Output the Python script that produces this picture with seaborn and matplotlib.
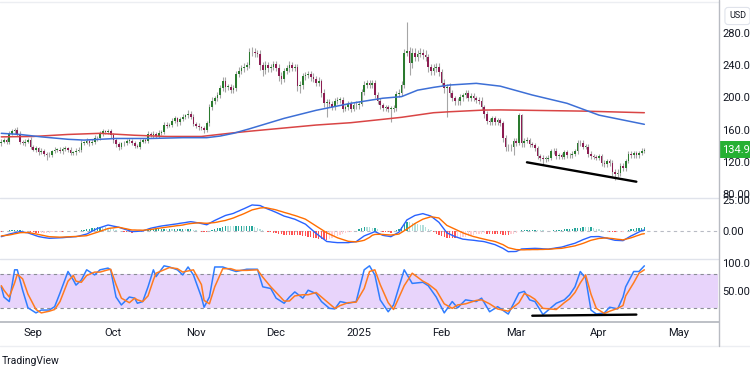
import numpy as np
import pandas as pd
import matplotlib
matplotlib.use("Agg")
import matplotlib.pyplot as plt
import matplotlib.transforms as mtransforms
from matplotlib.lines import Line2D
import seaborn as sns

# ---------------- data (daily, SOL/USD) ----------------
start_date = "2024-08-20"
close_aug = [145,147,145,155,158,160,155,145,143,145,147,139]
close_sep = [135,137,132,134,130,128,129,133,135,135,133,136,137,135,131,132,134,135,144,144,146,143,145,150,149,155,158,157,158,153]
close_oct = [147,142,138,143,143,146,146,143,140,139,145,147,146,155,153,155,152,156,157,166,165,166,171,174,169,173,176,178,180,176,167]
close_nov = [165,163,162,160,168,188,196,199,203,212,220,213,213,209,212,229,233,236,238,240,256,256,255,254,240,234,240,236,238,241]
close_dec = [237,226,223,233,236,240,237,238,214,215,226,228,229,225,223,218,220,206,193,194,192,188,195,197,197,186,188,192,186,191,190]
close_jan = [192,207,216,218,216,218,203,196,190,187,188,186,186,187,204,206,216,255,258,243,255,250,254,255,253,250,238,233,237,238,231]
close_feb = [218,212,213,205,199,195,195,200,203,205,199,202,199,197,196,188,179,171,170,174,170,172,168,150,139,138,139,146]
close_mar = [144,178,143,146,147,142,141,137,127,125,124,124,125,133,134,127,128,126,132,128,128,130,133,143,144,139,139,130,127,126,125]
close_apr = [127,119,117,121,119,107,105,106,115,112,121,130,128,131,128,131,134,134.9]
first_open = 143

wick_up = ([3,2,3,3,3,2,3,3,2,3,2,4]
           + [2,3,2,3,2,2,3,2,3,2,3,2,3,2,3,2,3,4,3,2,3,2,3,3,2,3,3,2,3,3]
           + [3,2,3,2,3,2,3,2,3,2,3,2,3,3,2,3,2,3,2,3,3,2,3,3,2,3,3,2,4,3,3]
           + [3,3,2,3,3,4,4,3,4,4,5,5,4,4,3,4,5,4,5,4,5,7,5,4,5,4,5,4,3,4]
           + [4,5,5,4,4,5,4,4,4,5,4,4,4,4,5,4,5,3,4,4,4,3,4,3,3,4,3,4,4,3,4]
           + [3,4,4,4,4,4,4,4,3,3,3,3,3,4,4,4,4,5,36,5,7,6,5,6,5,6,4,4,5,5,5]
           + [4,5,4,5,4,3,4,4,3,4,4,3,3,3,4,4,3,4,3,3,3,3,3,3,3,3,3,3]
           + [3,3,2,4,4,3,3,3,3,3,3,3,3,3,3,3,3,3,3,3,3,3,3,4,3,3,3,3,3,3,3]
           + [3,3,3,3,3,3,4,5,3,4,3,3,3,3,3,3,3,2])
wick_dn = ([3,2,3,3,2,3,3,3,2,3,2,3]
           + [2,3,3,2,3,6,2,3,2,3,2,3,2,3,3,2,3,2,3,3,2,3,2,3,3,2,3,3,2,3]
           + [3,3,3,2,3,2,3,2,3,2,3,2,3,3,2,3,3,2,3,2,3,2,3,3,4,3,2,3,3,3,3]
           + [3,3,3,4,3,3,4,4,3,4,4,6,4,4,3,4,4,4,4,4,3,5,5,4,6,8,5,4,4,4]
           + [4,6,6,4,4,4,4,4,6,8,4,4,4,4,4,4,4,5,5,17,4,4,4,3,4,4,3,4,4,3,4]
           + [4,3,4,4,4,4,4,4,4,4,4,4,16,4,4,4,4,4,4,15,6,5,5,4,5,5,6,5,5,5,5]
           + [4,6,36,5,4,5,4,4,4,4,4,4,4,4,4,4,5,4,4,4,4,4,4,5,6,5,4,10]
           + [4,3,4,4,3,3,3,3,4,4,8,4,3,3,3,3,3,3,3,3,3,3,3,3,3,3,3,4,3,3,3]
           + [3,4,4,3,4,5,8,4,3,4,3,3,3,3,3,3,3,3])

# moving averages (day offset, value)
ma50_days = [0,7,15,25,31,37,43,56,68,77,82,87,93,106,118,131,143,150,156,162,168,178,187,199,212,224,241]
ma50_vals = [155.4,154,151,148,147,148,149,149,150,150,152,155.4,161,174,184,192.7,199,201,209,212.5,215.4,217.5,214,203,192.7,178,166.6]
ma200_days = [0,12,25,37,50,62,75,87,93,118,131,143,150,162,168,181,187,218,241]
ma200_vals = [151,151.5,154,155.4,153,151.5,151.5,156,158,165.7,168.6,172.8,175.3,181,182.2,184.3,184.5,183,181]

# MACD (daily)
macd_line = [-4.6,-3.9,-3.2,-2.5,-2.0,-1.5,-1.0,-0.5,-0.8,-1.2,
             -1.5,-2.3,-3.0,-3.8,-4.5,-4.9,-5.3,-5.6,-5.9,-5.8,
             -5.7,-5.6,-5.5,-5.4,-5.2,-5.0,-4.9,-4.7,-4.6,-4.1,
             -3.6,-3.0,-2.5,-1.4,-0.3,0.9,2.0,2.7,3.4,4.1,
             4.8,4.4,3.9,3.5,3.0,2.3,1.6,0.9,0.2,-0.5,
             -0.4,-0.3,-0.1,0.0,0.7,1.5,2.2,2.7,3.1,3.6,
             4.0,4.3,4.6,4.9,5.2,5.5,5.8,6.2,6.5,6.8,
             7.2,7.5,7.2,6.8,6.5,6.0,5.5,5.0,6.2,7.3,
             8.5,9.5,10.5,11.5,12.5,13.1,13.6,14.2,15.2,16.1,
             17.1,18.0,19.0,20.0,21.0,20.8,20.7,20.5,19.5,18.5,
             17.6,16.8,15.9,15.0,14.0,13.0,12.0,11.4,10.8,10.1,
             9.5,8.5,7.5,6.5,5.5,3.6,1.8,-0.1,-2.0,-3.6,
             -5.3,-6.9,-8.5,-8.7,-9.0,-9.2,-9.4,-9.4,-9.4,-9.4,
             -9.4,-9.1,-8.9,-8.6,-7.1,-5.5,-4.0,-3.1,-2.3,-1.4,
             -0.5,-1.5,-2.5,-3.5,-3.9,-4.2,-4.6,-3.4,-2.2,-1.0,
             2.3,5.6,8.9,10.1,11.3,12.5,13.0,13.5,14.0,13.3,
             12.7,12.0,10.3,8.7,7.0,4.2,1.3,-1.5,-2.5,-3.5,
             -4.5,-5.2,-5.9,-6.6,-6.8,-7.1,-7.3,-7.5,-7.8,-8.1,
             -8.3,-8.6,-9.2,-9.8,-10.4,-11.0,-12.0,-13.0,-14.0,-15.4,
             -16.7,-16.6,-16.6,-16.5,-15.5,-14.5,-14.4,-14.3,-14.2,-14.1,
             -14.0,-14.1,-14.2,-14.4,-14.5,-14.6,-14.3,-14.0,-13.6,-13.3,
             -13.0,-12.4,-11.7,-11.1,-10.5,-9.9,-8.9,-8.0,-7.0,-6.2,
             -5.4,-4.6,-4.6,-4.5,-4.5,-5.0,-5.4,-5.9,-6.4,-7.0,
             -7.5,-7.6,-7.7,-7.8,-6.5,-5.3,-4.0,-3.0,-1.9,-0.8,
             0.3,0.8]
signal_line = [-4.0,-3.7,-3.5,-3.2,-2.8,-2.3,-1.9,-1.4,-1.3,-1.3,
               -1.2,-1.6,-2.0,-2.4,-2.8,-3.3,-3.7,-4.2,-4.6,-4.7,
               -4.8,-4.9,-5.0,-4.9,-4.8,-4.7,-4.6,-4.5,-4.4,-4.3,
               -4.1,-4.0,-3.8,-3.1,-2.4,-1.7,-1.0,-0.3,0.5,1.2,
               2.0,2.3,2.5,2.8,3.0,2.6,2.1,1.7,1.2,0.8,
               0.8,0.7,0.7,0.6,0.8,1.0,1.2,1.5,1.9,2.2,
               2.5,2.8,3.1,3.4,3.7,4.0,4.3,4.5,4.8,5.3,
               5.7,6.0,6.2,6.4,6.6,6.5,6.3,6.2,6.4,6.6,
               6.8,7.2,7.7,8.1,8.5,9.2,9.8,10.5,11.4,12.3,
               13.1,14.0,15.0,16.0,17.0,17.5,18.0,18.5,18.7,18.8,
               18.4,17.9,17.5,17.0,16.3,15.7,15.0,14.4,13.8,13.1,
               12.5,11.8,11.0,10.3,9.5,8.1,6.8,5.4,4.0,2.6,
               1.3,-0.1,-1.5,-2.5,-3.5,-4.5,-5.5,-6.2,-6.9,-7.6,
               -8.3,-8.5,-8.6,-8.8,-8.4,-8.0,-7.5,-6.4,-5.2,-3.5,
               -2.8,-2.7,-2.7,-2.8,-3.0,-3.1,-3.3,-3.0,-2.8,-2.5,
               -1.2,0.2,1.5,3.0,4.5,6.0,7.2,8.3,9.5,10.2,
               10.8,11.5,11.2,10.8,10.5,8.5,6.5,4.5,3.5,2.5,
               1.5,0.5,-0.5,-1.5,-2.3,-3.0,-3.8,-4.5,-5.0,-5.6,
               -6.1,-6.6,-7.1,-7.6,-8.0,-8.5,-9.3,-10.2,-11.0,-12.3,
               -13.5,-14.0,-14.5,-15.0,-15.1,-15.2,-15.2,-15.1,-15.1,-15.0,
               -15.0,-15.0,-14.9,-14.9,-14.8,-14.8,-14.6,-14.4,-14.2,-14.1,
               -14.0,-13.6,-13.2,-12.8,-12.4,-12.0,-11.3,-10.7,-10.0,-9.2,
               -8.3,-7.5,-7.0,-6.5,-6.0,-5.9,-5.7,-5.6,-5.9,-6.1,
               -6.4,-6.7,-6.9,-7.2,-6.6,-6.1,-5.5,-4.8,-4.0,-3.3,
               -2.5,-2.2]

# Stochastic RSI (day offset, %K, %D)
stoch_days = [0,1,3,5,6,8,10,13,15,18,20,22,25,27,28,30,32,35,37,40,
              41,43,45,48,50,51,53,55,57,58,61,63,66,68,70,72,75,76,78,80,
              83,86,88,92,96,98,101,103,106,108,110,113,115,118,120,123,125,127,130,133,
              136,138,140,142,145,147,151,154,158,160,163,166,169,171,174,178,180,183,186,190,
              194,196,198,200,203,208,211,213,215,217,219,221,223,226,228,231,233,234,237,239,241]
stoch_k = [58,40,32,88,88,52,21,12,17,17,23,47,85,70,61,70,88,79,88,91,
           88,40,26,40,38,29,32,58,88,76,95,93,88,79,93,79,40,22,40,93,
           93,88,85,89,89,58,55,38,29,40,49,38,52,46,32,20,19,32,29,32,
           88,95,79,35,14,26,88,64,66,60,40,12,32,21,35,32,38,14,23,10,
           47,50,35,32,9,29,35,44,58,85,73,17,10,12,22,19,40,58,85,85,95]
stoch_d = [60,52,40,65,80,72,45,18,12,15,18,32,68,78,68,66,78,84,84,88,
           89,62,38,30,38,35,32,42,70,82,88,92,90,84,86,88,62,34,28,58,
           90,90,87,87,88,75,58,48,33,33,42,44,44,48,40,28,20,25,30,31,
           55,85,88,62,30,18,60,82,68,63,52,28,20,26,28,34,35,28,19,15,
           30,46,42,36,20,18,30,37,48,65,79,45,20,11,15,20,25,42,65,82,88]

# trend lines drawn on the chart
trend_price_dates = ["2025-03-05", "2025-04-15"]
trend_price_vals = [119.4, 95.3]
trend_stoch_dates = ["2025-03-07", "2025-04-15"]
trend_stoch_vals = [7, 9]

tick_dates = ["2024-09-01","2024-10-01","2024-11-01","2024-12-01","2025-01-01",
              "2025-02-01","2025-03-01","2025-04-01","2025-05-01"]
tick_labels = ["Sep","Oct","Nov","Dec","2025","Feb","Mar","Apr","May"]
price_ticks = [80, 120, 160, 200, 240, 280]
macd_ticks = [0, 25]
stoch_ticks = [50, 100]

# ---------------- derived ----------------
closes = np.array(close_aug + close_sep + close_oct + close_nov + close_dec +
                  close_jan + close_feb + close_mar + close_apr, dtype=float)
n = len(closes)
t0 = pd.Timestamp(start_date)
dates = pd.date_range(start_date, periods=n, freq="D")
days = np.asarray((dates - t0).days, dtype=float)
opens = np.r_[first_open, closes[:-1]]
top = np.maximum(opens, closes)
bot = np.minimum(opens, closes)
highs = top + np.array(wick_up)
lows = bot - np.array(wick_dn)

def to_day(ds):
    return np.asarray((pd.to_datetime(ds) - t0).days, dtype=float)

macd = np.array(macd_line)
sig = np.array(signal_line)
hist = macd - sig
prev = np.r_[hist[0], hist[:-1]]
hist_col = np.where(hist >= 0,
                    np.where(hist >= prev, "#26a69a", "#b2dfdb"),
                    np.where(hist <= prev, "#ff5252", "#ffcdd2"))

# ---------------- style / layout ----------------
sns.set_style("white")
plt.rcParams["font.family"] = ["Roboto", "DejaVu Sans"]
TXT = "#131722"

W, H = 750, 375
fig = plt.figure(figsize=(7.5, 3.75), dpi=100)
fig.patch.set_facecolor("white")

def fx(px):
    return px / W

def fy(py):
    return 1 - py / H

PLOT_W = 718
ax_p = fig.add_axes([0, fy(197), fx(PLOT_W), (197 - 3) / H])
ax_m = fig.add_axes([0, fy(259), fx(PLOT_W), (259 - 198) / H])
ax_s = fig.add_axes([0, fy(321), fx(PLOT_W), (321 - 260) / H])

xlim = (-0.48, 268.6)
for ax in (ax_p, ax_m, ax_s):
    ax.set_xlim(*xlim)
    for sp in ax.spines.values():
        sp.set_visible(False)
    ax.set_facecolor("none")
    ax.yaxis.tick_right()
    ax.tick_params(axis="y", length=0, pad=3, labelsize=8, labelcolor=TXT)
    ax.set_xlabel("")
    ax.set_ylabel("")

# ---------------- price panel ----------------
ax_p.set_ylim(76.3, 317.3)
up_col, dn_col = "#2a7a2e", "#8c1d52"
cols = np.where(closes >= opens, up_col, dn_col)
ax_p.vlines(days, lows, highs, color="#a6a6a6", lw=0.8, zorder=2)
ax_p.bar(days, np.maximum(top - bot, 0.8), bottom=bot, width=0.62,
         color=cols, linewidth=0, zorder=3)
sns.lineplot(x=ma200_days, y=ma200_vals, ax=ax_p, color="#d94545", lw=1.1,
             errorbar=None, legend=False, zorder=4)
sns.lineplot(x=ma50_days, y=ma50_vals, ax=ax_p, color="#3d6fd6", lw=1.1,
             errorbar=None, legend=False, zorder=4)
ax_p.plot(to_day(trend_price_dates), trend_price_vals, color="black", lw=1.7,
          solid_capstyle="round", zorder=5)
ax_p.set_xticks([])
ax_p.set_yticks(price_ticks)
ax_p.set_yticklabels([f"{v:.2f}" for v in price_ticks])
ax_p.set_xlabel("")
ax_p.set_ylabel("")

trans = mtransforms.blended_transform_factory(ax_p.transAxes, ax_p.transData)
ax_p.text(722 / PLOT_W, closes[-1], f"{closes[-1]:.2f}", transform=trans,
          ha="left", va="center", fontsize=8, color="white", clip_on=False,
          zorder=10,
          bbox=dict(boxstyle="square,pad=0.3", fc="#26b033", ec="none"))

# ---------------- MACD panel ----------------
ax_m.set_ylim(-22.6, 26.6)
ax_m.axhline(0, color="#b8bbc4", lw=0.8, ls=(0, (3, 3)), zorder=1)
ax_m.bar(days, hist, width=0.5, color=hist_col, linewidth=0, zorder=2)
sns.lineplot(x=days, y=macd, ax=ax_m, color="#2962ff", lw=1.0,
             errorbar=None, legend=False, zorder=3)
sns.lineplot(x=days, y=sig, ax=ax_m, color="#ff6d00", lw=1.0,
             errorbar=None, legend=False, zorder=3)
ax_m.set_xticks([])
ax_m.set_yticks(macd_ticks)
ax_m.set_yticklabels([f"{v:.2f}" for v in macd_ticks])
ax_m.set_xlabel("")
ax_m.set_ylabel("")

# ---------------- Stoch RSI panel ----------------
ax_s.set_ylim(-2.3, 105.3)
ax_s.axhspan(20, 80, color="#e8d4fb", lw=0, zorder=0)
for lvl in (20, 80):
    ax_s.axhline(lvl, color="#8a8d96", lw=0.8, ls=(0, (3, 3)), zorder=1)
sns.lineplot(x=stoch_days, y=stoch_k, ax=ax_s, color="#2f7dff", lw=1.1,
             errorbar=None, legend=False, zorder=3)
sns.lineplot(x=stoch_days, y=stoch_d, ax=ax_s, color="#ff7b1f", lw=1.1,
             errorbar=None, legend=False, zorder=3)
ax_s.plot(to_day(trend_stoch_dates), trend_stoch_vals, color="black", lw=1.7,
          solid_capstyle="round", zorder=5)
ax_s.set_yticks(stoch_ticks)
ax_s.set_yticklabels([f"{v:.2f}" for v in stoch_ticks])
ax_s.set_xticks(to_day(tick_dates))
ax_s.set_xticklabels(tick_labels)
ax_s.tick_params(axis="x", length=0, pad=5, labelsize=8, labelcolor=TXT)
ax_s.set_xlabel("")
ax_s.set_ylabel("")

# ---------------- frame lines & texts ----------------
def hline(py, x0, x1, color, lw=1.0):
    fig.add_artist(Line2D([fx(x0), fx(x1)], [fy(py), fy(py)], color=color,
                          lw=lw, transform=fig.transFigure))

def vline(px, y0, y1, color, lw=1.0):
    fig.add_artist(Line2D([fx(px), fx(px)], [fy(y0), fy(y1)], color=color,
                          lw=lw, transform=fig.transFigure))

hline(1.5, 0, PLOT_W, "#eceef2")
hline(197.8, 0, PLOT_W, "#e0e3eb")
hline(259.2, 0, PLOT_W, "#e0e3eb")
hline(321.5, 0, PLOT_W + 1, "#b8bbc2", lw=1.3)
hline(346, 0, W, "#eceef2")
vline(718.5, 0, 346, "#b8bbc2", lw=1.0)

fig.text(fx(729), fy(16), "USD", fontsize=6.5, color=TXT, ha="left", va="center",
         bbox=dict(boxstyle="round,pad=0.45,rounding_size=0.35", fc="white",
                   ec="#e0e3eb", lw=0.8))
fig.text(fx(2), fy(361), "TradingView", fontsize=7.5, color=TXT,
         ha="left", va="center")

fig.savefig("out.png", dpi=100, facecolor="white")
